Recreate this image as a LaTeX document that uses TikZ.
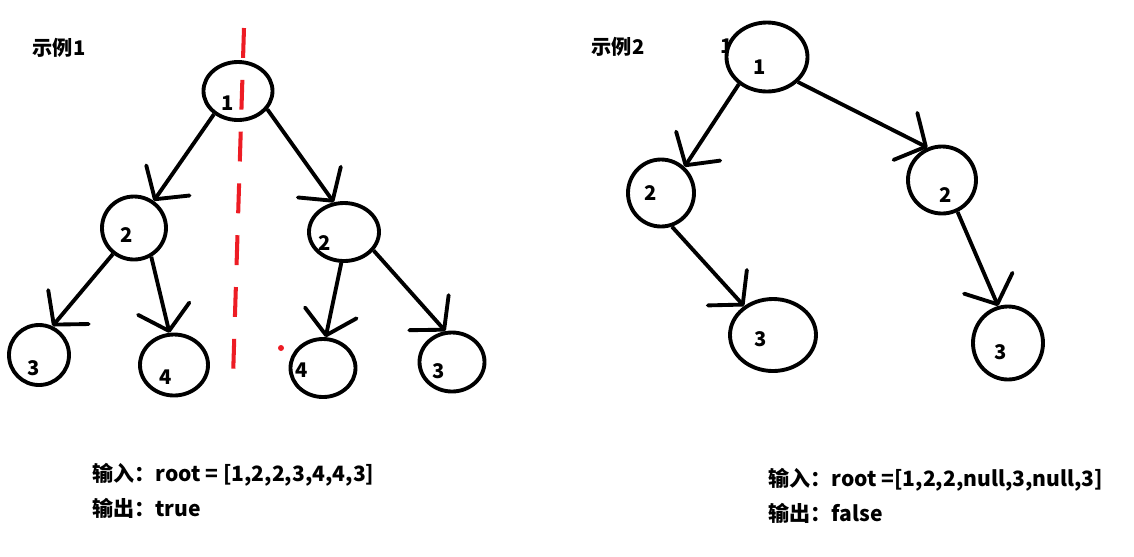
\documentclass[tikz,border=0pt]{standalone}
\usepackage{fontspec}
\setmainfont{Noto Sans CJK SC}
\usetikzlibrary{shapes.geometric,arrows.meta}
\definecolor{cutred}{RGB}{237,28,36}
\tikzset{
  bub/.style 2 args={ellipse,draw,fill=white,line width=2.2pt,inner sep=0pt,minimum width=#1*0.02cm,minimum height=#2*0.02cm},
  num/.style={font=\fontsize{11.5}{13}\selectfont\bfseries,inner sep=0pt},
  io/.style={font=\fontsize{12}{14}\selectfont\bfseries,inner sep=0pt,anchor=west},
  arr/.style={line width=2.2pt,-{Straight Barb[length=13pt,width=30pt,round]}}
}
\begin{document}
\begin{tikzpicture}[x=0.02cm,y=-0.02cm]
\useasboundingbox (0,0) rectangle (1134,556);
\node[num] (t1) at (59,48) {示例1};
\node[num] (t2) at (618,47) {示例2};
\node[num] (stray) at (727,46) {1};
\node[bub={69}{58}] (r1) at (238,91) {};
\node[bub={64}{63}] (a2) at (134,228) {};
\node[bub={70}{58}] (b2) at (344,232) {};
\node[bub={60}{60}] (a3) at (39,355) {};
\node[bub={68}{61}] (a4) at (174,365) {};
\node[bub={65}{58}] (b4) at (323,368) {};
\node[bub={65}{59}] (b3) at (452,362) {};
\node[num] (r1t) at (228,103) {1};
\node[num] (a2t) at (127,235) {2};
\node[num] (b2t) at (325,243) {2};
\node[num] (a3t) at (34,368) {3};
\node[num] (a4t) at (166,377) {4};
\node[num] (b4t) at (302,370) {4};
\node[num] (b3t) at (439,371) {3};
\draw[arr] (r1.224) -- (a2.54);
\draw[arr] (r1.328) -- (b2.109);
\draw[arr] (a2.231) -- (a3.65);
\draw[arr] (a2.301) -- (a4.98);
\draw[arr] (b2.265) -- (b4.85);
\draw[arr] (b2.328) -- (b3.102);
\coordinate (axisT) at (244,28);
\coordinate (axisB) at (233,378);
\draw[cutred,line width=2.3pt,dash pattern=on 17pt off 12.5pt] (axisT) -- (axisB);
\fill[cutred] (281,348) circle (3);
\node[bub={81}{69}] (s1) at (767,57) {};
\node[bub={66}{67}] (c2) at (661,193) {};
\node[bub={68}{67}] (d2) at (942,180) {};
\node[bub={86}{72}] (c3) at (773,335) {};
\node[bub={70}{73}] (d3) at (1008,343) {};
\node[num] (s1t) at (760,67) {1};
\node[num] (c2t) at (651,193) {2};
\node[num] (d2t) at (946,195) {2};
\node[num] (c3t) at (761,339) {3};
\node[num] (d3t) at (1001,352) {3};
\draw[arr] (s1.224) -- (c2.48);
\draw[arr] (s1.321) -- (d2.114);
\draw[arr] (c2.288) -- (c3.135);
\draw[arr] (d2.296) -- (d3.105);
\node[io] (in1) at (92,475) {输入：root = [1,2,2,3,4,4,3]};
\node[io] (out1) at (92,508) {输出：true};
\node[io] (in2) at (768,480) {输入：root =[1,2,2,null,3,null,3]};
\node[io] (out2) at (768,513) {输出：false};
\end{tikzpicture}
\end{document}
